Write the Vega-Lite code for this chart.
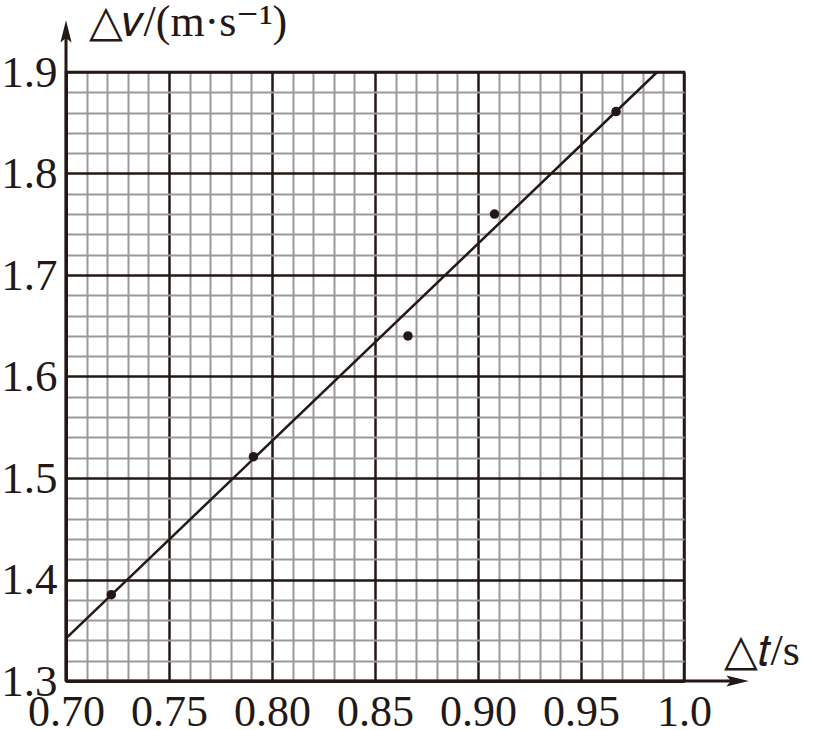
{
  "$schema": "https://vega.github.io/schema/vega-lite/v6.json",
  "width": 618,
  "height": 609,
  "autosize": "none",
  "padding": {"left": 66, "top": 72, "right": 133, "bottom": 49},
  "background": "white",
  "config": {
    "view": {"stroke": "#231815", "strokeWidth": 2.5},
    "font": "Liberation Serif"
  },
  "datasets": {
    "pts": [
      {"t": 0.722, "v": 1.385},
      {"t": 0.791, "v": 1.521},
      {"t": 0.866, "v": 1.640},
      {"t": 0.908, "v": 1.760},
      {"t": 0.967, "v": 1.861}
    ],
    "fit": [
      {"t": 0.70, "v": 1.342},
      {"t": 0.987, "v": 1.90}
    ],
    "yaxis": [{"t": 0.7, "v": 1.3, "v2": 1.94}],
    "xaxis": [{"t": 0.7, "t2": 1.026, "v": 1.3}],
    "yarrow": [{"t": 0.7, "v": 1.94}],
    "xarrow": [{"t": 1.026, "v": 1.3}]
  },
  "layer": [
    {
      "data": {"name": "pts"},
      "mark": {"type": "point", "filled": true, "size": 90, "color": "#231815", "opacity": 1},
      "encoding": {
        "x": {
          "field": "t", "type": "quantitative",
          "scale": {"domain": [0.7, 1.0], "nice": false, "zero": false},
          "axis": {
            "values": [0.70,0.71,0.72,0.73,0.74,0.75,0.76,0.77,0.78,0.79,0.80,0.81,0.82,0.83,0.84,0.85,0.86,0.87,0.88,0.89,0.90,0.91,0.92,0.93,0.94,0.95,0.96,0.97,0.98,0.99,1.00],
            "tickCount": 200,
            "grid": true,
            "gridColor": {"condition": {"test": "round(datum.value*100) % 5 == 0", "value": "#231815"}, "value": "#999999"},
            "gridWidth": {"condition": {"test": "round(datum.value*100) % 5 == 0", "value": 2.5}, "value": 2},
            "gridOpacity": 1,
            "ticks": false,
            "domainColor": "#231815",
            "domainWidth": 3,
            "labelExpr": "round(datum.value*100) % 5 == 0 ? (round(datum.value*100) == 100 ? '1.0' : format(datum.value, '.2f')) : ''",
            "labelFont": "Liberation Serif",
            "labelFontSize": 44,
            "labelColor": "#231815",
            "labelPadding": 9,
            "labelBaseline": "top",
            "labelFlush": false,
            "labelOverlap": false,
            "title": "△𝑡/s",
            "titleFont": "Liberation Serif",
            "titleFontSize": 44,
            "titleFontWeight": "normal",
            "titleColor": "#231815",
            "titleAlign": "left",
            "titleAnchor": null,
            "titleBaseline": "alphabetic",
            "titleX": 657,
            "titleY": -17
          }
        },
        "y": {
          "field": "v", "type": "quantitative",
          "scale": {"domain": [1.3, 1.9], "nice": false, "zero": false},
          "axis": {
            "values": [1.30,1.32,1.34,1.36,1.38,1.40,1.42,1.44,1.46,1.48,1.50,1.52,1.54,1.56,1.58,1.60,1.62,1.64,1.66,1.68,1.70,1.72,1.74,1.76,1.78,1.80,1.82,1.84,1.86,1.88,1.90],
            "tickCount": 200,
            "grid": true,
            "gridColor": {"condition": {"test": "round(datum.value*100) % 10 == 0", "value": "#231815"}, "value": "#999999"},
            "gridWidth": {"condition": {"test": "round(datum.value*100) % 10 == 0", "value": 2.5}, "value": 2},
            "gridOpacity": 1,
            "ticks": false,
            "domainColor": "#231815",
            "domainWidth": 3,
            "labelExpr": "round(datum.value*100) % 10 == 0 ? format(datum.value, '.1f') : ''",
            "labelFont": "Liberation Serif",
            "labelFontSize": 45,
            "labelColor": "#231815",
            "labelPadding": 9,
            "labelBaseline": "middle",
            "labelFlush": false,
            "labelOverlap": false,
            "title": "△𝑣/(m·s⁻¹)",
            "titleFont": "Liberation Serif",
            "titleFontSize": 44,
            "titleFontWeight": "normal",
            "titleColor": "#231815",
            "titleAngle": 0,
            "titleAlign": "left",
            "titleAnchor": null,
            "titleBaseline": "alphabetic",
            "titleX": 22,
            "titleY": -37
          }
        }
      }
    },
    {
      "data": {"name": "fit"},
      "mark": {"type": "line", "color": "#231815", "strokeWidth": 2.5},
      "encoding": {
        "x": {"field": "t", "type": "quantitative"},
        "y": {"field": "v", "type": "quantitative"}
      }
    },
    {
      "data": {"name": "yaxis"},
      "mark": {"type": "rule", "color": "#231815", "strokeWidth": 3},
      "encoding": {
        "x": {"field": "t", "type": "quantitative"},
        "y": {"field": "v", "type": "quantitative"},
        "y2": {"field": "v2"}
      }
    },
    {
      "data": {"name": "xaxis"},
      "mark": {"type": "rule", "color": "#231815", "strokeWidth": 3},
      "encoding": {
        "x": {"field": "t", "type": "quantitative"},
        "x2": {"field": "t2"},
        "y": {"field": "v", "type": "quantitative"}
      }
    },
    {
      "data": {"name": "yarrow"},
      "mark": {"type": "point", "shape": "M-0.5,1 L0,-1 L0.5,1 L0,0.6 Z", "filled": true, "size": 500, "color": "#231815", "opacity": 1},
      "encoding": {
        "x": {"field": "t", "type": "quantitative"},
        "y": {"field": "v", "type": "quantitative"}
      }
    },
    {
      "data": {"name": "xarrow"},
      "mark": {"type": "point", "shape": "M-1,-0.5 L1,0 L-1,0.5 L-0.6,0 Z", "filled": true, "size": 500, "color": "#231815", "opacity": 1},
      "encoding": {
        "x": {"field": "t", "type": "quantitative"},
        "y": {"field": "v", "type": "quantitative"}
      }
    }
  ]
}
